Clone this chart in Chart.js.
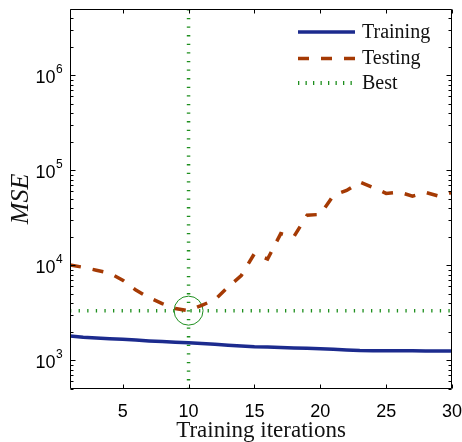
<!DOCTYPE html>
<html><head><meta charset="utf-8">
<script src="https://cdn.jsdelivr.net/npm/chart.js@4.4.1/dist/chart.umd.min.js"></script>
<style>html,body{margin:0;padding:0;background:#fff;overflow:hidden}</style>
</head><body>
<canvas id="c" width="462" height="442"></canvas>
<script>
// ---- data ----
const iterations = [1,2,3,4,5,6,7,8,9,10,11,12,13,14,15,16,17,18,19,20,21,22,23,24,25,26,27,28,29,30];
const trainingMSE = [1810,1750,1720,1690,1665,1635,1605,1580,1555,1530,1505,1475,1445,1415,1392,1380,1366,1352,1340,1328,1310,1285,1268,1263,1262,1261,1260,1259,1258,1256];
const testingMSE = [10100,9550,8900,8300,7000,5500,4580,3960,3510,3340,3800,4350,5920,7810,13300,11640,21600,20100,33800,34400,54600,61500,75400,66200,57300,59100,53600,58600,53600,58600];
const bestIteration = 10;
const bestMSE = 3340;
const xTickValues = [5,10,15,20,25,30];
const yTickValues = [1e3,1e4,1e5,1e6];
const yTickBase = '10';
const yTickExponents = ['3','4','5','6'];
const xRange = [1,30];
const yRange = [500,5e6];
const seriesLabels = ['Training','Testing','Best'];
const xTitle = 'Training iterations';
const yTitle = 'MSE';

const C_TRAIN = '#1c2b8e', C_TEST = '#a53a04', C_BEST = '#1f8f1f';
const SANS = '"Liberation Sans", Arial, sans-serif';
const SERIF = '"Liberation Serif", "Times New Roman", serif';

const legendItems = [
  {label: seriesLabels[0], color: C_TRAIN, width: 3.5, dash: []},
  {label: seriesLabels[1], color: C_TEST, width: 3.5, dash: [11, 12]},
  {label: seriesLabels[2], color: C_BEST, width: 4, dash: [1.3, 6.2]}
];

const framePlugin = {
  id: 'frame',
  afterDatasetsDraw(chart) {
    const {ctx, chartArea: a, scales: {x, y}} = chart;
    ctx.save();
    ctx.strokeStyle = '#000';
    ctx.lineWidth = 1;
    ctx.setLineDash([]);
    const L = a.left + 0.5, R = a.right - 0.5, T = a.top + 0.5, B = a.bottom - 0.5;
    ctx.beginPath();
    ctx.rect(L, T, R - L, B - T);
    ctx.stroke();
    const seg = (x1, y1, x2, y2) => { ctx.beginPath(); ctx.moveTo(x1, y1); ctx.lineTo(x2, y2); ctx.stroke(); };
    xTickValues.forEach(v => {
      const px = Math.round(x.getPixelForValue(v)) + 0.5;
      seg(px, B, px, B - 4);
      seg(px, T, px, T + 4);
    });
    for (let e = 2; e <= 6; e++) {
      for (let m = 1; m <= 9; m++) {
        const v = m * Math.pow(10, e);
        if (v < yRange[0] || v > yRange[1]) continue;
        const py = Math.round(y.getPixelForValue(v)) + 0.5;
        const len = m === 1 ? 5 : 3;
        seg(L, py, L + len, py);
        seg(R, py, R - len, py);
      }
    }
    // y tick labels: 10 with raised exponent
    ctx.fillStyle = '#000';
    yTickValues.forEach((v, i) => {
      const py = y.getPixelForValue(v);
      ctx.font = '18px ' + SANS;
      ctx.textAlign = 'right';
      ctx.textBaseline = 'alphabetic';
      ctx.fillText(yTickBase, a.left - 14.5, py + 8);
      ctx.font = '12px ' + SANS;
      ctx.textAlign = 'left';
      ctx.fillText(yTickExponents[i], a.left - 14, py - 2);
    });
    ctx.restore();
  },
  afterDraw(chart) {
    const ctx = chart.ctx;
    ctx.save();
    const x0 = 298, x1 = 355, tx = 362, ys = [32, 58.5, 83];
    legendItems.forEach((it, i) => {
      ctx.strokeStyle = it.color;
      ctx.lineWidth = it.width;
      ctx.lineCap = 'butt';
      ctx.setLineDash(it.dash);
      ctx.beginPath();
      ctx.moveTo(x0, ys[i]);
      ctx.lineTo(x1, ys[i]);
      ctx.stroke();
      ctx.setLineDash([]);
      ctx.fillStyle = '#111';
      ctx.font = '20px ' + SERIF;
      ctx.textBaseline = 'alphabetic';
      ctx.textAlign = 'left';
      ctx.fillText(it.label, tx, ys[i] + 5.5);
    });
    ctx.restore();
  }
};

const pts = (xs, ys) => xs.map((v, i) => ({x: v, y: ys[i]}));

new Chart(document.getElementById('c'), {
  type: 'line',
  data: {
    datasets: [
      {label: seriesLabels[0], data: pts(iterations, trainingMSE), borderColor: C_TRAIN, borderWidth: 3.5, pointRadius: 0, tension: 0},
      {label: seriesLabels[1], data: pts(iterations, testingMSE), borderColor: C_TEST, borderWidth: 3.5, borderDash: [11, 12], pointRadius: 0, tension: 0},
      {label: seriesLabels[2], data: [{x: xRange[0], y: bestMSE}, {x: xRange[1], y: bestMSE}], borderColor: C_BEST, borderWidth: 3.5, borderDash: [1.3, 7.3], pointRadius: 0},
      {label: seriesLabels[2] + ' iteration', data: [{x: bestIteration, y: yRange[0]}, {x: bestIteration, y: yRange[1]}], borderColor: C_BEST, borderWidth: 3.5, borderDash: [1.3, 7.3], pointRadius: 0},
      {label: seriesLabels[2] + ' point', data: [{x: bestIteration, y: bestMSE}], showLine: false, pointRadius: 14.5, pointStyle: 'circle', pointBorderColor: C_BEST, pointBackgroundColor: 'rgba(0,0,0,0)', pointBorderWidth: 1, borderColor: C_BEST}
    ]
  },
  options: {
    responsive: false,
    animation: false,
    devicePixelRatio: 1,
    layout: {autoPadding: false, padding: {top: 9, right: 10, left: 0, bottom: 0}},
    plugins: {legend: {display: false}, tooltip: {enabled: false}},
    scales: {
      x: {
        type: 'linear', min: xRange[0], max: xRange[1],
        grid: {display: false}, border: {display: false},
        afterBuildTicks: s => { s.ticks = xTickValues.map(v => ({value: v})); },
        afterFit: s => { s.height = 53; s.paddingLeft = 0; s.paddingRight = 0; },
        ticks: {color: '#000', font: {family: SANS, size: 18}, padding: 4, maxRotation: 0, autoSkip: false, callback: v => String(v)},
        title: {display: true, text: xTitle, color: '#111', font: {family: SERIF, size: 23, lineHeight: 1}, padding: {top: 0, bottom: 0}}
      },
      y: {
        type: 'logarithmic', min: yRange[0], max: yRange[1],
        grid: {display: false}, border: {display: false},
        afterBuildTicks: s => { s.ticks = yTickValues.map(v => ({value: v})); },
        afterFit: s => { s.width = 70; s.paddingTop = 0; s.paddingBottom = 0; },
        ticks: {display: false, autoSkip: false, callback: v => yTickBase + yTickExponents[yTickValues.indexOf(v)]},
        title: {display: true, text: yTitle, color: '#111', font: {family: SERIF, size: 26, style: 'italic', lineHeight: 1}, padding: {top: 8, bottom: 0}}
      }
    }
  },
  plugins: [framePlugin]
});
</script>
</body></html>
